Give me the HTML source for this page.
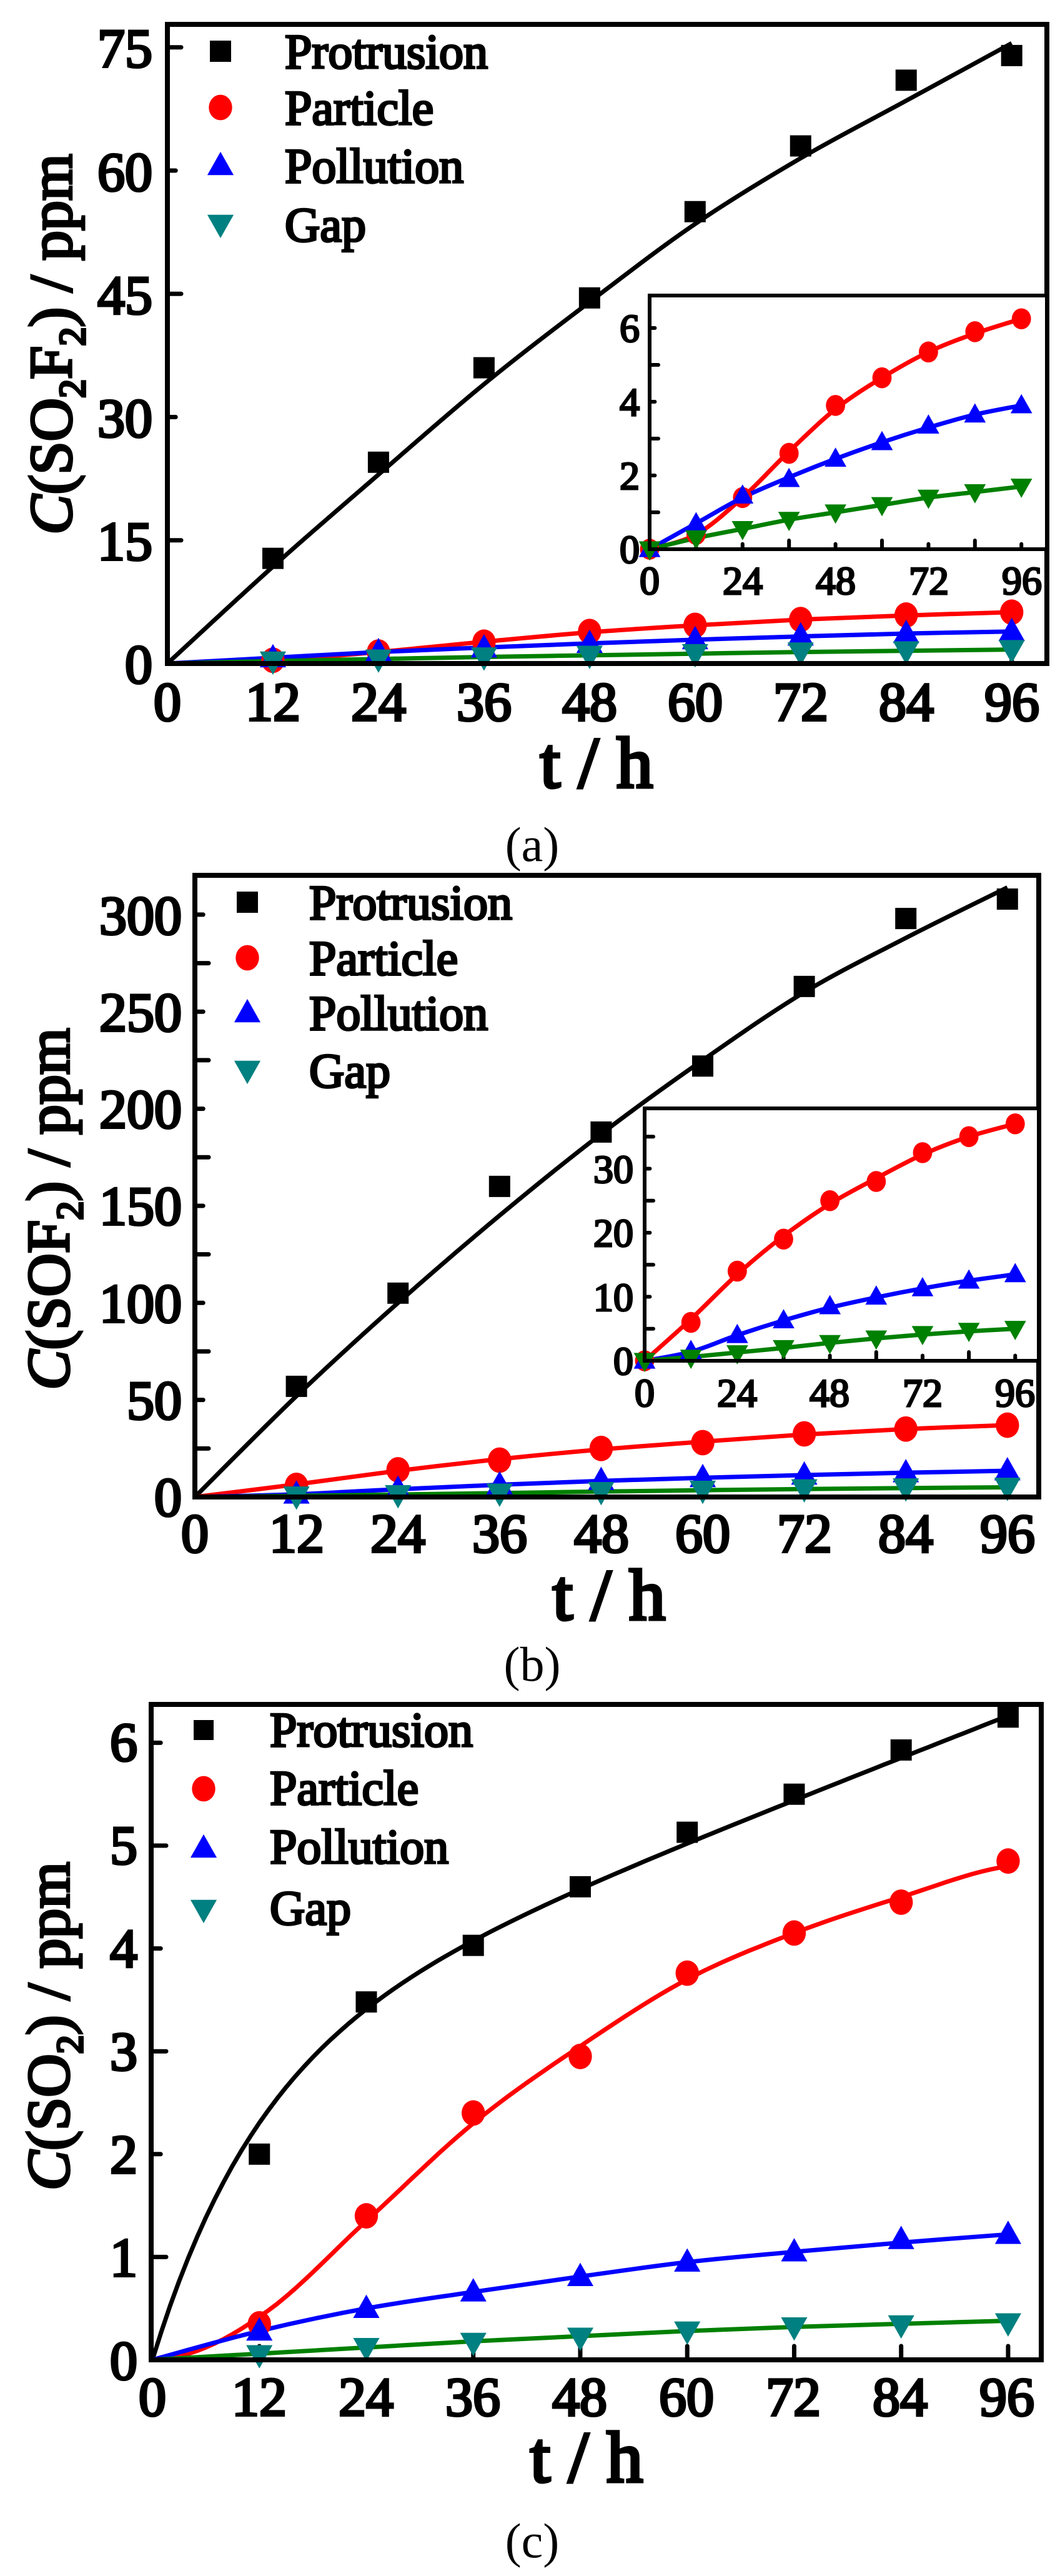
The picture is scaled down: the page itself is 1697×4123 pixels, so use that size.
<!DOCTYPE html>
<html><head><meta charset="utf-8">
<style>
html,body{margin:0;padding:0;background:#fff;}
svg{display:block;}
svg text{font-family:"Liberation Serif","Times New Roman","DejaVu Serif",serif;font-weight:normal;}
.tk{font-size:88px;stroke:#000;stroke-width:4px;}
.ti{font-size:64px;stroke:#000;stroke-width:3px;}
.lg{font-size:78px;stroke:#000;stroke-width:3.5px;}
.ax{font-size:116px;stroke:#000;stroke-width:5px;}
.yt{font-size:96px;stroke:#000;stroke-width:4px;}
.cap{font-size:78px;}
</style></head>
<body>
<svg id="s" width="1697" height="4123" viewBox="0 0 1697 4123" xmlns="http://www.w3.org/2000/svg">
<rect width="1697" height="4123" fill="#fff"/>
<g id="plots"></g>
<g font-family="'Liberation Serif','Times New Roman','DejaVu Serif',serif">
<g class="tk" text-anchor="end">
<text x="244" y="107">75</text><text x="244" y="305">60</text><text x="244" y="502">45</text>
<text x="244" y="699">30</text><text x="244" y="896">15</text><text x="244" y="1093">0</text>
</g>
<g class="tk" text-anchor="middle">
<text x="268" y="1153">0</text><text x="437" y="1153">12</text><text x="606" y="1153">24</text>
<text x="775" y="1153">36</text><text x="944" y="1153">48</text><text x="1113" y="1153">60</text>
<text x="1282" y="1153">72</text><text x="1451" y="1153">84</text><text x="1620" y="1153">96</text>
</g>
<text class="ax" x="955" y="1260" text-anchor="middle">t / h</text>
<text class="cap" x="852" y="1378" text-anchor="middle">(a)</text>
<text class="yt" transform="translate(114,551) rotate(-90)" text-anchor="middle"><tspan font-style="italic">C</tspan>(SO<tspan dy="22" font-size="60">2</tspan><tspan dy="-22">F</tspan><tspan dy="22" font-size="60">2</tspan><tspan dy="-22">) / ppm</tspan></text>
<g class="lg">
<text x="456" y="109">Protrusion</text><text x="456" y="199">Particle</text>
<text x="456" y="292">Pollution</text><text x="456" y="386">Gap</text>
</g>
<g class="ti" text-anchor="end">
<text x="1024" y="901">0</text><text x="1024" y="783">2</text><text x="1024" y="665">4</text><text x="1024" y="547">6</text>
</g>
<g class="ti" text-anchor="middle">
<text x="1040" y="951">0</text><text x="1189" y="951">24</text><text x="1338" y="951">48</text>
<text x="1487" y="951">72</text><text x="1636" y="951">96</text>
</g>

<g class="tk" text-anchor="end">
<text x="291" y="2426">0</text><text x="291" y="2271">50</text><text x="291" y="2116">100</text>
<text x="291" y="1960">150</text><text x="291" y="1805">200</text><text x="291" y="1650">250</text><text x="291" y="1495">300</text>
</g>
<g class="tk" text-anchor="middle">
<text x="312" y="2484">0</text><text x="475" y="2484">12</text><text x="637" y="2484">24</text>
<text x="800" y="2484">36</text><text x="963" y="2484">48</text><text x="1125" y="2484">60</text>
<text x="1288" y="2484">72</text><text x="1450" y="2484">84</text><text x="1613" y="2484">96</text>
</g>
<text class="ax" x="975" y="2592" text-anchor="middle">t / h</text>
<text class="cap" x="852" y="2690" text-anchor="middle">(b)</text>
<text class="yt" transform="translate(110,1935) rotate(-90)" text-anchor="middle"><tspan font-style="italic">C</tspan>(SOF<tspan dy="22" font-size="60">2</tspan><tspan dy="-22">) / ppm</tspan></text>
<g class="lg">
<text x="495" y="1471">Protrusion</text><text x="495" y="1560">Particle</text>
<text x="495" y="1648">Pollution</text><text x="495" y="1740">Gap</text>
</g>
<g class="ti" text-anchor="end">
<text x="1014" y="2200">0</text><text x="1014" y="2098">10</text><text x="1014" y="1995">20</text><text x="1014" y="1893">30</text>
</g>
<g class="ti" text-anchor="middle">
<text x="1032" y="2251">0</text><text x="1180" y="2251">24</text><text x="1328" y="2251">48</text>
<text x="1477" y="2251">72</text><text x="1625" y="2251">96</text>
</g>

<g class="tk" text-anchor="end">
<text x="220" y="3808">0</text><text x="220" y="3643">1</text><text x="220" y="3478">2</text>
<text x="220" y="3313">3</text><text x="220" y="3148">4</text><text x="220" y="2983">5</text><text x="220" y="2818">6</text>
</g>
<g class="tk" text-anchor="middle">
<text x="244" y="3866">0</text><text x="415" y="3866">12</text><text x="586" y="3866">24</text>
<text x="757" y="3866">36</text><text x="928" y="3866">48</text><text x="1099" y="3866">60</text>
<text x="1270" y="3866">72</text><text x="1441" y="3866">84</text><text x="1612" y="3866">96</text>
</g>
<text class="ax" x="939" y="3972" text-anchor="middle">t / h</text>
<text class="cap" x="852" y="4093" text-anchor="middle">(c)</text>
<text class="yt" transform="translate(110,3243) rotate(-90)" text-anchor="middle"><tspan font-style="italic">C</tspan>(SO<tspan dy="22" font-size="60">2</tspan><tspan dy="-22">) / ppm</tspan></text>
<g class="lg">
<text x="432" y="2795">Protrusion</text><text x="432" y="2888">Particle</text>
<text x="432" y="2982">Pollution</text><text x="432" y="3080">Gap</text>
</g>
</g>
</svg>
<script>
(function(){
var NS="http://www.w3.org/2000/svg",G=document.getElementById("plots");
function el(t,a){var e=document.createElementNS(NS,t);for(var k in a)e.setAttribute(k,a[k]);G.appendChild(e);return e;}
function spline(P){var d="M"+P[0][0]+","+P[0][1];for(var i=0;i<P.length-1;i++){var p0=P[i-1]||P[i],p1=P[i],p2=P[i+1],p3=P[i+2]||p2;
var c1=[p1[0]+(p2[0]-p0[0])/6,p1[1]+(p2[1]-p0[1])/6],c2=[p2[0]-(p3[0]-p1[0])/6,p2[1]-(p3[1]-p1[1])/6];
d+=" C"+c1[0]+","+c1[1]+" "+c2[0]+","+c2[1]+" "+p2[0]+","+p2[1];}return d;}
function marker(type,x,y,s,col){
 if(type=="sq")el("rect",{x:x-s/2,y:y-s/2,width:s,height:s,fill:col});
 else if(type=="ci")el("ellipse",{cx:x,cy:y,rx:s*0.55,ry:s*0.6,fill:col});
 else if(type=="up")el("polygon",{points:(x)+","+(y-s*0.65)+" "+(x-s*0.62)+","+(y+s*0.45)+" "+(x+s*0.62)+","+(y+s*0.45),fill:col});
 else el("polygon",{points:(x)+","+(y+s*0.65)+" "+(x-s*0.62)+","+(y-s*0.45)+" "+(x+s*0.62)+","+(y-s*0.45),fill:col});}
function panel(c){
 var X=function(t){return c.x0+t*c.px;},Y=function(v){return c.y0-v*c.py;};
 c.series.forEach(function(s){
  var P;
  if(s.fn){P=[];for(var t=0;t<=96;t+=1)P.push([X(t),Y(s.fn(t))]);
   el("path",{d:"M"+P.map(function(p){return p[0].toFixed(1)+","+p[1].toFixed(1);}).join(" L"),fill:"none",stroke:s.lc,"stroke-width":c.lw,"stroke-linejoin":"round"});}
  else{P=s.curve.map(function(v,i){return [X(i*12),Y(v)];});
   el("path",{d:spline(P),fill:"none",stroke:s.lc,"stroke-width":c.lw,"stroke-linejoin":"round"});}
 });
 c.series.forEach(function(s){
  s.pts.forEach(function(v,i){ if(i==0&&!c.zero)return; marker(s.m,X(i*12),Y(v),c.ms,s.mc);});
 });
}
function frame(x1,y1,x2,y2,w){el("rect",{x:x1,y:y1,width:x2-x1,height:y2-y1,fill:"none",stroke:"#000","stroke-width":w});}
function ticks(c){
 c.xt.forEach(function(t,i){var x=c.x0+t*c.px;el("line",{x1:x,y1:c.yb,x2:x,y2:c.yb-(i%2==0||!c.xminor?c.tl:c.tl*0.6),stroke:"#000","stroke-width":c.tw,"stroke-linecap":"round"});});
 c.yt.forEach(function(v,i){var y=c.y0-v*c.py;el("line",{x1:c.xl,y1:y,x2:c.xl+(i%2==0?c.tl:c.tl*0.6),y2:y,stroke:"#000","stroke-width":c.tw,"stroke-linecap":"round"});});
}
var K="#000",R="#ff0000",B="#0000ff",T="#008080",Gr="#008000";
var a={x0:268,px:14.08,y0:1062,py:13.15,lw:7,ms:34,zero:false,series:[
 {pts:[0,12.8,24.5,36,44.5,55,63,71,74],curve:[0,11.8,23,34,44,53.5,61.5,68.5,75.5],m:"sq",mc:K,lc:K},
 {pts:[0,0.4,1.4,2.6,3.9,4.65,5.35,5.9,6.25],curve:[0,0.4,1.4,2.65,3.8,4.65,5.35,5.85,6.25],m:"ci",mc:R,lc:R},
 {pts:[0,0.7,1.45,1.9,2.45,2.9,3.35,3.65,3.9],curve:[0,0.7,1.4,1.95,2.45,2.9,3.3,3.65,3.9],m:"up",mc:B,lc:B},
 {pts:[0,0.3,0.55,0.8,1.0,1.2,1.4,1.55,1.7],curve:[0,0.3,0.55,0.8,1.0,1.2,1.4,1.55,1.7],m:"dn",mc:T,lc:Gr}]};
ticks({x0:268,px:14.08,y0:1062,py:13.15,yb:1062,xl:268,tl:22,tw:7,xt:[12,24,36,48,60,72,84,96],yt:[15,30,45,60,75]});
panel(a);
frame(268,39,1676,1062,8);
marker("sq",353,82,34,K);marker("ci",353,172,34,R);marker("up",353,265,34,B);marker("dn",353,359,34,T);
el("rect",{x:1040,y:473,width:636,height:406,fill:"#fff"});
ticks({x0:1040,px:6.2,y0:879,py:59,yb:879,xl:1040,tl:14,tw:6,xt:[12,24,36,48,60,72,84,96],yt:[1,2,3,4,5,6],xminor:true});
var ai={x0:1040,px:6.2,y0:879,py:59,lw:7,ms:28,zero:true,series:a.series.slice(1).map(function(s){return {pts:s.pts,curve:s.curve,m:s.m,mc:s.m=="dn"?Gr:s.mc,lc:s.lc};})};
panel(ai);
frame(1040,473,1676,879,6);
var b={x0:312,px:13.55,y0:2396,py:3.107,lw:7,ms:34,zero:false,series:[
 {pts:[0,57,105,160,188,222,263,298,308],curve:[0,52,100,145,187,225,260,288,314],m:"sq",mc:K,lc:K},
 {pts:[0,6,14,19,25,28,32.5,35,37],curve:[0,6.5,13.5,19.5,24.5,28.5,32.2,35,37],m:"ci",mc:R,lc:R},
 {pts:[0,1.5,4,6.3,8.5,10,11.3,12.5,13.5],curve:[0,1.4,4,6.3,8.3,9.9,11.3,12.5,13.5],m:"up",mc:B,lc:B},
 {pts:[0,0.5,1.2,2,2.8,3.5,4.2,4.7,5],curve:[0,0.6,1.3,2,2.8,3.5,4.1,4.6,5],m:"dn",mc:T,lc:Gr}]};
ticks({x0:312,px:13.55,y0:2396,py:3.107,yb:2396,xl:312,tl:22,tw:7,xt:[12,24,36,48,60,72,84,96],yt:[25,50,75,100,125,150,175,200,225,250,275,300]});
panel(b);
frame(312,1401,1663,2396,8);
marker("sq",396,1444,34,K);marker("ci",396,1533,34,R);marker("up",396,1621,34,B);marker("dn",396,1713,34,T);
el("rect",{x:1032,y:1774,width:631,height:404,fill:"#fff"});
ticks({x0:1032,px:6.18,y0:2178,py:10.25,yb:2178,xl:1032,tl:14,tw:6,xt:[12,24,36,48,60,72,84,96],yt:[5,10,15,20,25,30,35],xminor:true});
var bi={x0:1032,px:6.18,y0:2178,py:10.25,lw:7,ms:28,zero:true,series:b.series.slice(1).map(function(s){return {pts:s.pts,curve:s.curve,m:s.m,mc:s.m=="dn"?Gr:s.mc,lc:s.lc};})};
panel(bi);
frame(1032,1774,1663,2178,6);
var c={x0:244,px:14.27,y0:3777,py:164.6,lw:7,ms:34,zero:false,series:[
 {pts:[0,2.0,3.48,4.03,4.6,5.13,5.5,5.93,6.25],fn:function(t){return 3.0*(1-Math.exp(-t/12))+0.034*t;},m:"sq",mc:K,lc:K},
 {pts:[0,0.35,1.4,2.4,2.95,3.76,4.15,4.45,4.85],fn:function(t){var v=[0,0.42,1.35,2.3,3.05,3.7,4.15,4.5,4.8];var i=Math.min(7,Math.floor(t/12)),u=(t-i*12)/12;
   if(t<12)return 0.42*Math.pow(t/12,1.8);
   var p0=v[i-1]!==undefined?v[i-1]:v[i],p1=v[i],p2=v[i+1],p3=v[i+2]!==undefined?v[i+2]:p2;
   return 0.5*((2*p1)+(-p0+p2)*u+(2*p0-5*p1+4*p2-p3)*u*u+(-p0+3*p1-3*p2+p3)*u*u*u);},m:"ci",mc:R,lc:R},
 {pts:[0,0.28,0.5,0.66,0.81,0.95,1.05,1.17,1.22],curve:[0,0.28,0.5,0.66,0.81,0.95,1.05,1.14,1.22],m:"up",mc:B,lc:B},
 {pts:[0,0.05,0.12,0.17,0.22,0.28,0.32,0.34,0.36],curve:[0,0.06,0.12,0.18,0.23,0.28,0.32,0.35,0.38],m:"dn",mc:T,lc:Gr}]};
ticks({x0:244,px:14.27,y0:3777,py:164.6,yb:3777,xl:244,tl:22,tw:7,xt:[12,24,36,48,60,72,84,96],yt:[1,2,3,4,5,6]});
panel(c);
frame(242,2728,1667,3777,8);
marker("sq",326,2769,32,K);marker("ci",326,2863,34,R);marker("up",326,2958,34,B);marker("dn",326,3056,34,T);
})();
</script>
</body></html>
